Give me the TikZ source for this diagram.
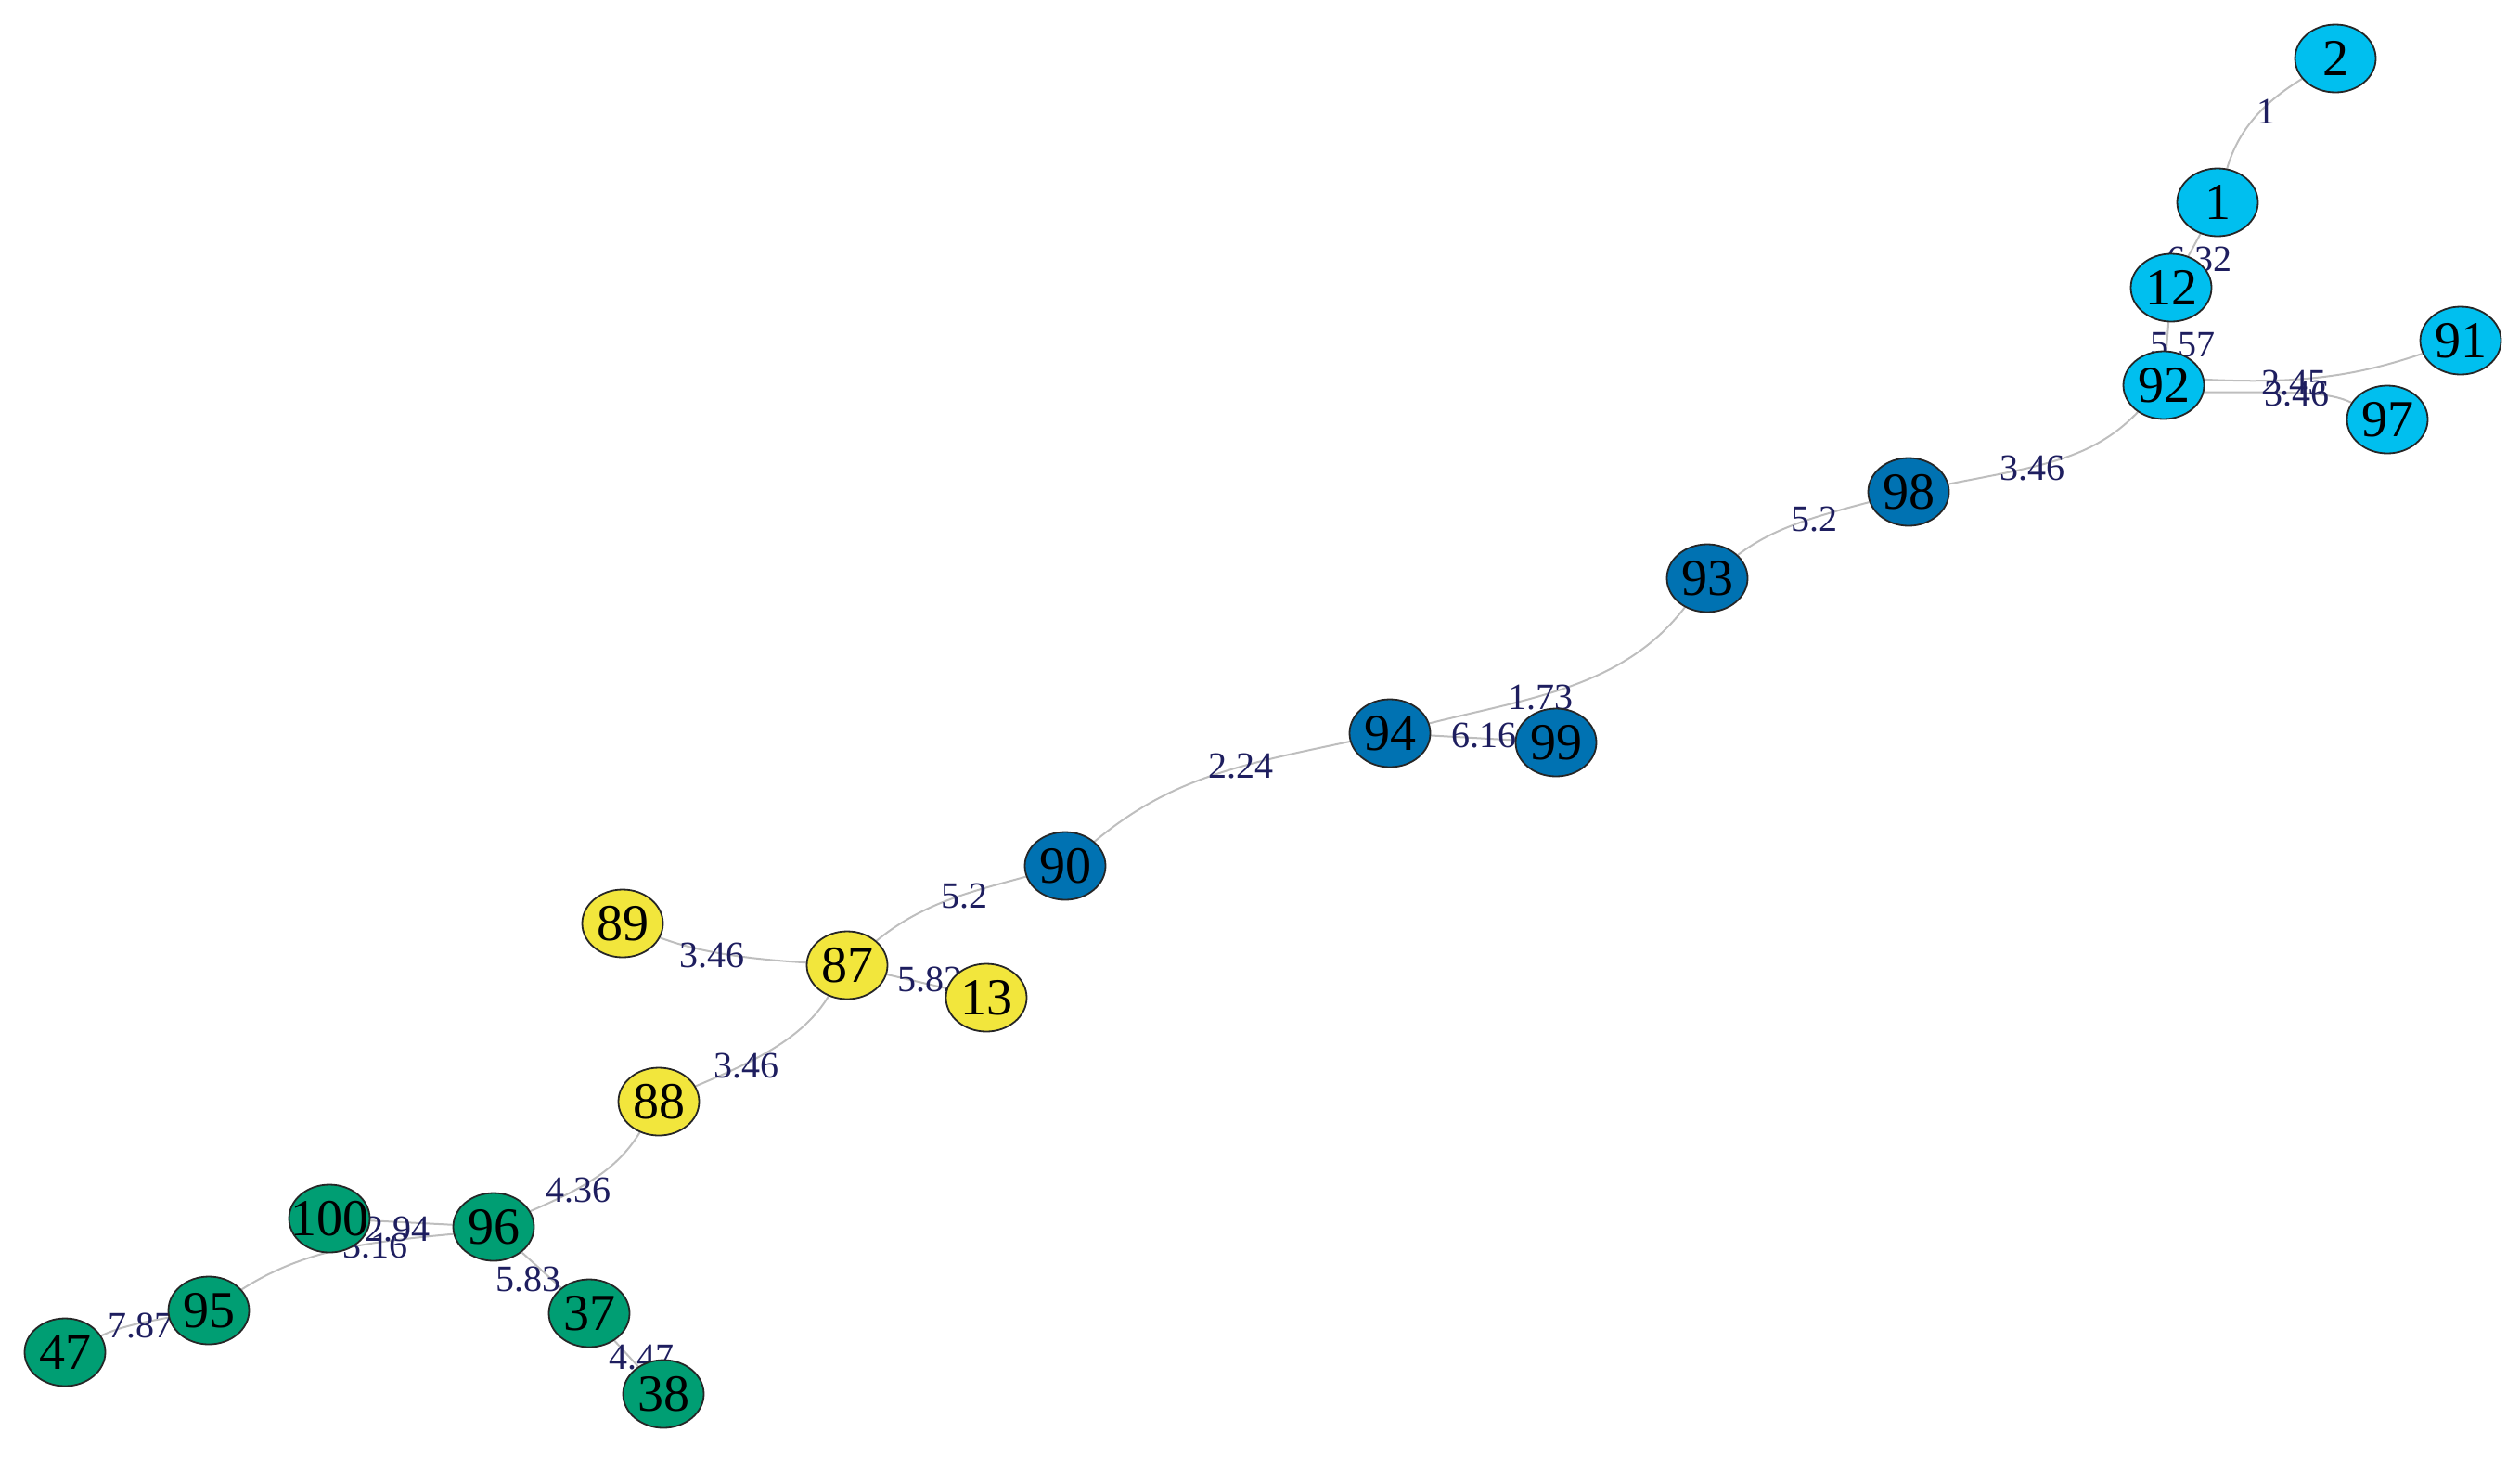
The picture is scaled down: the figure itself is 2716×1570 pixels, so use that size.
\documentclass[tikz,border=0pt]{standalone}
\usepackage{fontspec}
\setmainfont{Liberation Serif}
\usetikzlibrary{shapes.geometric}
\pgfdeclarelayer{edgelayer}
\pgfdeclarelayer{labellayer}
\pgfsetlayers{edgelayer,labellayer,main}
\definecolor{cLB}{RGB}{0,191,239}
\definecolor{cDB}{RGB}{0,114,178}
\definecolor{cYE}{RGB}{242,230,60}
\definecolor{cGR}{RGB}{0,158,115}
\definecolor{cLbl}{RGB}{30,30,95}
\definecolor{cEdge}{RGB}{190,190,190}
\newcommand\nz[1]{\makebox[0pt]{#1}}
\begin{document}
\begin{tikzpicture}[x=0.5pt,y=-0.5pt,
  vtx/.style={ellipse, draw=black!85, line width=0.9pt, minimum width=43.5pt,
    minimum height=36.5pt, inner sep=0pt, font=\fontsize{28}{28}\selectfont},
  lbv/.style={vtx, fill=cLB},
  dbv/.style={vtx, fill=cDB},
  yev/.style={vtx, fill=cYE},
  grv/.style={vtx, fill=cGR},
  elab/.style={text=cLbl, inner sep=0pt, font=\fontsize{20}{20}\selectfont},
  edg/.style={draw=cEdge, line width=1pt}
]
\useasboundingbox (0,0) rectangle (2716,1570);
% nodes
\node[lbv] (n2)  at (2517,63)  {\nz{2}};
\node[lbv] (n1)  at (2390,218) {\nz{1}};
\node[lbv] (n12) at (2340,310) {\nz{12}};
\node[lbv] (n92) at (2332,415) {\nz{92}};
\node[lbv] (n91) at (2652,367) {\nz{91}};
\node[lbv] (n97) at (2573,452) {\nz{97}};
\node[dbv] (n98) at (2057,530) {\nz{98}};
\node[dbv] (n93) at (1840,623) {\nz{93}};
\node[dbv] (n94) at (1498,790) {\nz{94}};
\node[dbv] (n99) at (1677,800) {\nz{99}};
\node[dbv] (n90) at (1148,933) {\nz{90}};
\node[yev] (n89) at (671,995)  {\nz{89}};
\node[yev] (n87) at (913,1040) {\nz{87}};
\node[yev] (n13) at (1063,1075) {\nz{13}};
\node[yev] (n88) at (710,1187) {\nz{88}};
\node[grv] (n100) at (355,1313) {\nz{100}};
\node[grv] (n96) at (532,1322) {\nz{96}};
\node[grv] (n95) at (225,1412) {\nz{95}};
\node[grv] (n47) at (70,1457)  {\nz{47}};
\node[grv] (n37) at (635,1415) {\nz{37}};
\node[grv] (n38) at (715,1502) {\nz{38}};
% edges
\begin{pgfonlayer}{edgelayer}
\draw[edg] (n2) .. controls (2440,110) and (2412,140) .. (n1);
\draw[edg] (n1) -- (n12);
\draw[edg] (n12) -- (n92);
\draw[edg] (n92.8) .. controls (2480,414) and (2540,405) .. (n91);
\draw[edg] (n92.-10) .. controls (2460,423) and (2505,420) .. (n97);
\draw[edg] (n92) .. controls (2255,495) and (2200,502) .. (n98);
\draw[edg] (n98) .. controls (1950,558) and (1910,570) .. (n93);
\draw[edg] (n93) .. controls (1750,740) and (1650,752) .. (n94);
\draw[edg] (n94) -- (n99);
\draw[edg] (n94) .. controls (1330,825) and (1260,840) .. (n90);
\draw[edg] (n90) .. controls (1050,960) and (995,972) .. (n87);
\draw[edg] (n87) .. controls (800,1033) and (750,1025) .. (n89);
\draw[edg] (n87) -- (n13);
\draw[edg] (n87) .. controls (865,1120) and (810,1145) .. (n88);
\draw[edg] (n88) .. controls (665,1260) and (630,1280) .. (n96);
\draw[edg] (n100) -- (n96);
\draw[edg] (n96.190) .. controls (400,1338) and (330,1345) .. (n95);
\draw[edg] (n95) .. controls (140,1427) and (125,1432) .. (n47);
\draw[edg] (n96) -- (n37);
\draw[edg] (n37) -- (n38);
\end{pgfonlayer}
% edge labels
\begin{pgfonlayer}{labellayer}
\node[elab] (l2-1)   at (2442,120)  {1};
\node[elab] (l1-12)  at (2370,280)  {6.32};
\node[elab] (l12-92) at (2352,372)  {5.57};
\node[elab] (l92-91) at (2472,413)  {2.45};
\node[elab] (l92-97) at (2475,425)  {3.46};
\node[elab] (l92-98) at (2190,505)  {3.46};
\node[elab] (l98-93) at (1955,560)  {5.2};
\node[elab] (l93-94) at (1660,752)  {1.73};
\node[elab] (l94-99) at (1599,793)  {6.16};
\node[elab] (l94-90) at (1337,826)  {2.24};
\node[elab] (l90-87) at (1039,966)  {5.2};
\node[elab] (l87-89) at (767,1030)  {3.46};
\node[elab] (l87-13) at (1002,1055) {5.82};
\node[elab] (l87-88) at (804,1149)  {3.46};
\node[elab] (l88-96) at (623,1283)  {4.36};
\node[elab] (l100-96) at (428,1325) {2.94};
\node[elab] (l96-95) at (404,1343)  {3.16};
\node[elab] (l95-47) at (151,1428)  {7.87};
\node[elab] (l96-37) at (569,1378)  {5.83};
\node[elab] (l37-38) at (691,1463)  {4.47};
\end{pgfonlayer}
\end{tikzpicture}
\end{document}
